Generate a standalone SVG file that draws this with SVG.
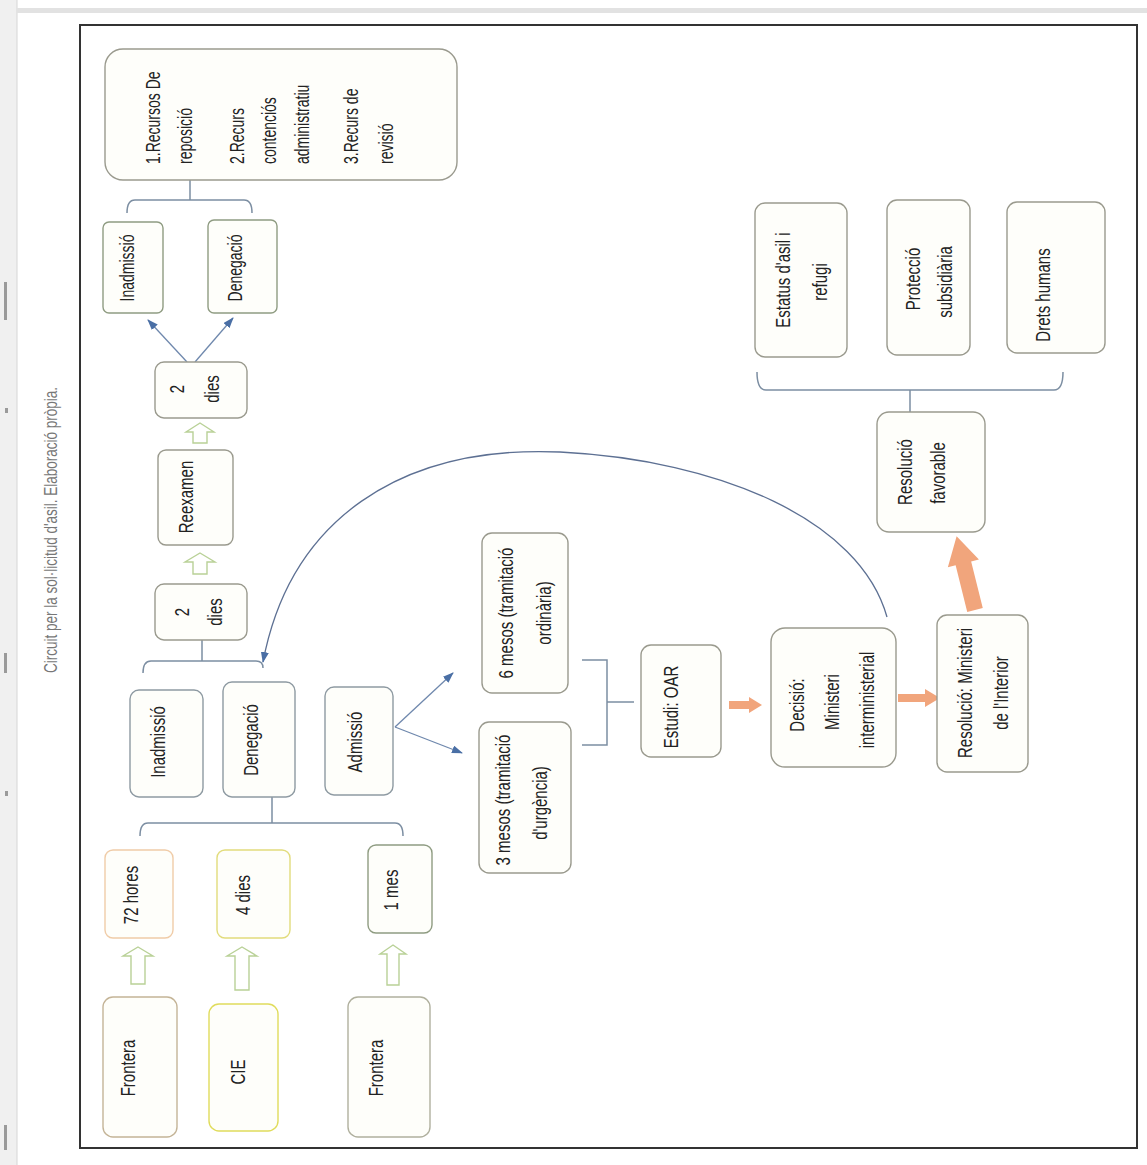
<svg xmlns="http://www.w3.org/2000/svg" width="1147" height="1165" viewBox="0 0 1147 1165">
<defs>
<style>
.box{fill:#fefefa;stroke:#9a9a8e;stroke-width:1.4}
.gb{stroke:#8f9c82}
.bb{stroke:#8e9aa2}
.pe{stroke:#f0cca8}
.ye{stroke:#e2dc7c}
.t{font-family:"Liberation Sans",Arial,sans-serif;font-size:15px;fill:#222}
.s{font-size:14px}
.br{fill:none;stroke:#7c8ea2;stroke-width:1.5}
.ln{fill:none;stroke:#6f88ad;stroke-width:1.3}
.cv{fill:none;stroke:#5d7093;stroke-width:1.3}
.ha{fill:#fff;stroke:#b9d197;stroke-width:1.4}
.oa{fill:#f1a57c;stroke:none}
</style>
<marker id="ab" markerUnits="userSpaceOnUse" markerWidth="11" markerHeight="8" refX="10" refY="4" orient="auto">
<path d="M0,0 L11,4 L0,8 z" fill="#4a6fa5"/>
</marker>
</defs>
<rect x="0" y="0" width="1147" height="1165" fill="#ffffff"/>
<rect x="0" y="0" width="17" height="1165" fill="#f0f0f0"/>
<line x1="17" y1="0" x2="17" y2="1165" stroke="#d6d6d6" stroke-width="1"/>
<rect x="17" y="8" width="1130" height="5" fill="#e2e2e2"/>
<g fill="#9a9a9a">
<rect x="4" y="282" width="3" height="38"/>
<rect x="5" y="408" width="3" height="5"/>
<rect x="4" y="653" width="3" height="20"/>
<rect x="5" y="791" width="3" height="5"/>
<rect x="4" y="1125" width="3" height="25"/>
</g>
<rect x="80" y="25" width="1057" height="1123" fill="none" stroke="#333" stroke-width="2"/>
<text class="t" style="font-size:13.5px;fill:#777" text-anchor="middle" dominant-baseline="central" transform="translate(50,530) rotate(-90) scale(1,1.4)">Circuit per la sol·licitud d'asil. Elaboració pròpia.</text>

<g id="connectors">
<path class="br" d="M190,180 V200 M127,213 Q127,200 135,200 H244 Q252,200 252,213"/>
<line class="ln" x1="187" y1="362" x2="148" y2="320" marker-end="url(#ab)"/>
<line class="ln" x1="195" y1="362" x2="233" y2="318" marker-end="url(#ab)"/>
<path class="ha" d="M200,423 L214,432 L207,432 L207,443 L193,443 L193,432 L186,432 Z"/>
<path class="ha" d="M200,553 L215,562 L207,562 L207,574 L193,574 L193,562 L185,562 Z"/>
<path class="br" d="M202,640 V661 M143,673 Q143,661 151,661 H256 Q263,661 263,668"/>
<path class="cv" d="M887,617 C860,520 720,460 560,452 C400,445 290,520 263,662" marker-end="url(#ab)"/>
<path class="br" d="M272,797 V823 M140,836 Q140,823 148,823 H395 Q403,823 403,836"/>
<line class="ln" x1="395" y1="727" x2="453" y2="673" marker-end="url(#ab)"/>
<line class="ln" x1="395" y1="727" x2="462" y2="753" marker-end="url(#ab)"/>
<path class="ha" d="M138,947 L153,956 L145,956 L145,984 L131,984 L131,956 L123,956 Z"/>
<path class="ha" d="M242,947 L257,956 L249,956 L249,990 L235,990 L235,956 L227,956 Z"/>
<path class="ha" d="M393,945 L406,954 L399,954 L399,985 L387,985 L387,954 L380,954 Z"/>
<path class="br" d="M582,660 H607 V745 H582 M607,702 H634"/>
<path class="oa" d="M729,701 L749,701 L749,697 L762,705 L749,713 L749,709 L729,709 Z"/>
<path class="oa" d="M898,694 L925,694 L925,689 L940,698 L925,707 L925,702 L898,702 Z"/>
<path class="oa" transform="translate(975,610) rotate(-14)" d="M-8,0 L-8,-48 L-16,-48 L0,-76 L16,-48 L8,-48 L8,0 Z"/>
<path class="br" d="M910,412 V390 M757,372 Q757,390 766,390 H1054 Q1063,390 1063,372"/>
</g>

<g id="n-recursos"><rect class="box" x="105" y="49" width="352" height="131" rx="18"/>
<text class="t s" dominant-baseline="central" transform="translate(154,164) rotate(-90) scale(1,1.4)">1.Recursos De</text>
<text class="t s" dominant-baseline="central" transform="translate(186,164) rotate(-90) scale(1,1.4)">reposició</text>
<text class="t s" dominant-baseline="central" transform="translate(238,164) rotate(-90) scale(1,1.4)">2.Recurs</text>
<text class="t s" dominant-baseline="central" transform="translate(270,164) rotate(-90) scale(1,1.4)">contenciós</text>
<text class="t s" dominant-baseline="central" transform="translate(303,164) rotate(-90) scale(1,1.4)">administratiu</text>
<text class="t s" dominant-baseline="central" transform="translate(352,164) rotate(-90) scale(1,1.4)">3.Recurs de</text>
<text class="t s" dominant-baseline="central" transform="translate(387,164) rotate(-90) scale(1,1.4)">revisió</text></g>
<g id="n-inad-top"><rect class="box gb" x="103" y="222" width="60" height="91" rx="6"/>
<text class="t s" text-anchor="middle" dominant-baseline="central" transform="translate(128,268) rotate(-90) scale(1,1.4)">Inadmissió</text></g>
<g id="n-deneg-top"><rect class="box gb" x="208" y="220" width="69" height="93" rx="6"/>
<text class="t s" text-anchor="middle" dominant-baseline="central" transform="translate(236,268) rotate(-90) scale(1,1.4)">Denegació</text></g>
<g id="n-dies-top"><rect class="box" x="155" y="362" width="92" height="56" rx="9"/>
<text class="t" text-anchor="middle" dominant-baseline="central" transform="translate(177,389) rotate(-90) scale(1,1.4)">2</text>
<text class="t" text-anchor="middle" dominant-baseline="central" transform="translate(212,389) rotate(-90) scale(1,1.4)">dies</text></g>
<g id="n-reexamen"><rect class="box" x="158" y="450" width="75" height="95" rx="8"/>
<text class="t" text-anchor="middle" dominant-baseline="central" transform="translate(186,497) rotate(-90) scale(1,1.4)">Reexamen</text></g>
<g id="n-dies-low"><rect class="box" x="155" y="584" width="92" height="56" rx="9"/>
<text class="t" text-anchor="middle" dominant-baseline="central" transform="translate(182,612) rotate(-90) scale(1,1.4)">2</text>
<text class="t" text-anchor="middle" dominant-baseline="central" transform="translate(215,612) rotate(-90) scale(1,1.4)">dies</text></g>
<g id="n-inad-low"><rect class="box bb" x="130" y="690" width="73" height="107" rx="9"/>
<text class="t" text-anchor="middle" dominant-baseline="central" transform="translate(158,742) rotate(-90) scale(1,1.4)">Inadmissió</text></g>
<g id="n-deneg-low"><rect class="box bb" x="223" y="682" width="72" height="115" rx="9"/>
<text class="t" text-anchor="middle" dominant-baseline="central" transform="translate(251,740) rotate(-90) scale(1,1.4)">Denegació</text></g>
<g id="n-admissio"><rect class="box bb" x="325" y="687" width="68" height="108" rx="9"/>
<text class="t" text-anchor="middle" dominant-baseline="central" transform="translate(355,742) rotate(-90) scale(1,1.4)">Admissió</text></g>
<g id="n-72h"><rect class="box pe" x="105" y="850" width="68" height="88" rx="8"/>
<text class="t" text-anchor="middle" dominant-baseline="central" transform="translate(131,895) rotate(-90) scale(1,1.4)">72 hores</text></g>
<g id="n-4d"><rect class="box ye" x="217" y="850" width="73" height="88" rx="8"/>
<text class="t" text-anchor="middle" dominant-baseline="central" transform="translate(243,895) rotate(-90) scale(1,1.4)">4 dies</text></g>
<g id="n-1m"><rect class="box gb" x="368" y="845" width="64" height="88" rx="8"/>
<text class="t" text-anchor="middle" dominant-baseline="central" transform="translate(391,890) rotate(-90) scale(1,1.4)">1 mes</text></g>
<g id="n-frontera1"><rect class="box" style="stroke:#c4b497" x="103" y="997" width="74" height="140" rx="10"/>
<text class="t" text-anchor="middle" dominant-baseline="central" transform="translate(128,1068) rotate(-90) scale(1,1.4)">Frontera</text></g>
<g id="n-cie"><rect class="box" style="stroke:#e0dc5c" x="209" y="1004" width="69" height="127" rx="10"/>
<text class="t" text-anchor="middle" dominant-baseline="central" transform="translate(238,1072) rotate(-90) scale(1,1.4)">CIE</text></g>
<g id="n-frontera2"><rect class="box" style="stroke:#b0b09e" x="348" y="997" width="82" height="140" rx="10"/>
<text class="t" text-anchor="middle" dominant-baseline="central" transform="translate(376,1068) rotate(-90) scale(1,1.4)">Frontera</text></g>
<g id="n-6mesos"><rect class="box" x="482" y="533" width="86" height="160" rx="10"/>
<text class="t" text-anchor="middle" dominant-baseline="central" transform="translate(506,613) rotate(-90) scale(1,1.4)">6 mesos (tramitació</text>
<text class="t" text-anchor="middle" dominant-baseline="central" transform="translate(544,613) rotate(-90) scale(1,1.4)">ordinària)</text></g>
<g id="n-3mesos"><rect class="box" x="479" y="722" width="92" height="151" rx="10"/>
<text class="t" text-anchor="middle" dominant-baseline="central" transform="translate(503,800) rotate(-90) scale(1,1.4)">3 mesos (tramitació</text>
<text class="t" text-anchor="middle" dominant-baseline="central" transform="translate(540,803) rotate(-90) scale(1,1.4)">d'urgència)</text></g>
<g id="n-oar"><rect class="box" x="641" y="645" width="80" height="112" rx="10"/>
<text class="t" text-anchor="middle" dominant-baseline="central" transform="translate(671,707) rotate(-90) scale(1,1.4)">Estudi: OAR</text></g>
<g id="n-decisio"><rect class="box" x="771" y="628" width="125" height="139" rx="14"/>
<text class="t" text-anchor="middle" dominant-baseline="central" transform="translate(797,705) rotate(-90) scale(1,1.4)">Decisió:</text>
<text class="t" text-anchor="middle" dominant-baseline="central" transform="translate(832,702) rotate(-90) scale(1,1.4)">Ministeri</text>
<text class="t" text-anchor="middle" dominant-baseline="central" transform="translate(867,700) rotate(-90) scale(1,1.4)">interministerial</text></g>
<g id="n-resmin"><rect class="box" x="937" y="615" width="91" height="157" rx="10"/>
<text class="t" text-anchor="middle" dominant-baseline="central" transform="translate(965,693) rotate(-90) scale(1,1.4)">Resolució: Ministeri</text>
<text class="t" text-anchor="middle" dominant-baseline="central" transform="translate(1001,693) rotate(-90) scale(1,1.4)">de l'Interior</text></g>
<g id="n-resfav"><rect class="box" x="877" y="412" width="108" height="120" rx="12"/>
<text class="t" text-anchor="middle" dominant-baseline="central" transform="translate(905,472) rotate(-90) scale(1,1.4)">Resolució</text>
<text class="t" text-anchor="middle" dominant-baseline="central" transform="translate(938,473) rotate(-90) scale(1,1.4)">favorable</text></g>
<g id="n-estatus"><rect class="box" x="755" y="203" width="92" height="154" rx="10"/>
<text class="t" text-anchor="middle" dominant-baseline="central" transform="translate(783,280) rotate(-90) scale(1,1.4)">Estatus d'asil i</text>
<text class="t" text-anchor="middle" dominant-baseline="central" transform="translate(820,282) rotate(-90) scale(1,1.4)">refugi</text></g>
<g id="n-proteccio"><rect class="box" x="887" y="200" width="83" height="155" rx="10"/>
<text class="t" text-anchor="middle" dominant-baseline="central" transform="translate(913,279) rotate(-90) scale(1,1.4)">Protecció</text>
<text class="t" text-anchor="middle" dominant-baseline="central" transform="translate(945,282) rotate(-90) scale(1,1.4)">subsidiària</text></g>
<g id="n-drets"><rect class="box" x="1007" y="202" width="98" height="151" rx="10"/>
<text class="t" text-anchor="middle" dominant-baseline="central" transform="translate(1043,295) rotate(-90) scale(1,1.4)">Drets humans</text></g>
</svg>
